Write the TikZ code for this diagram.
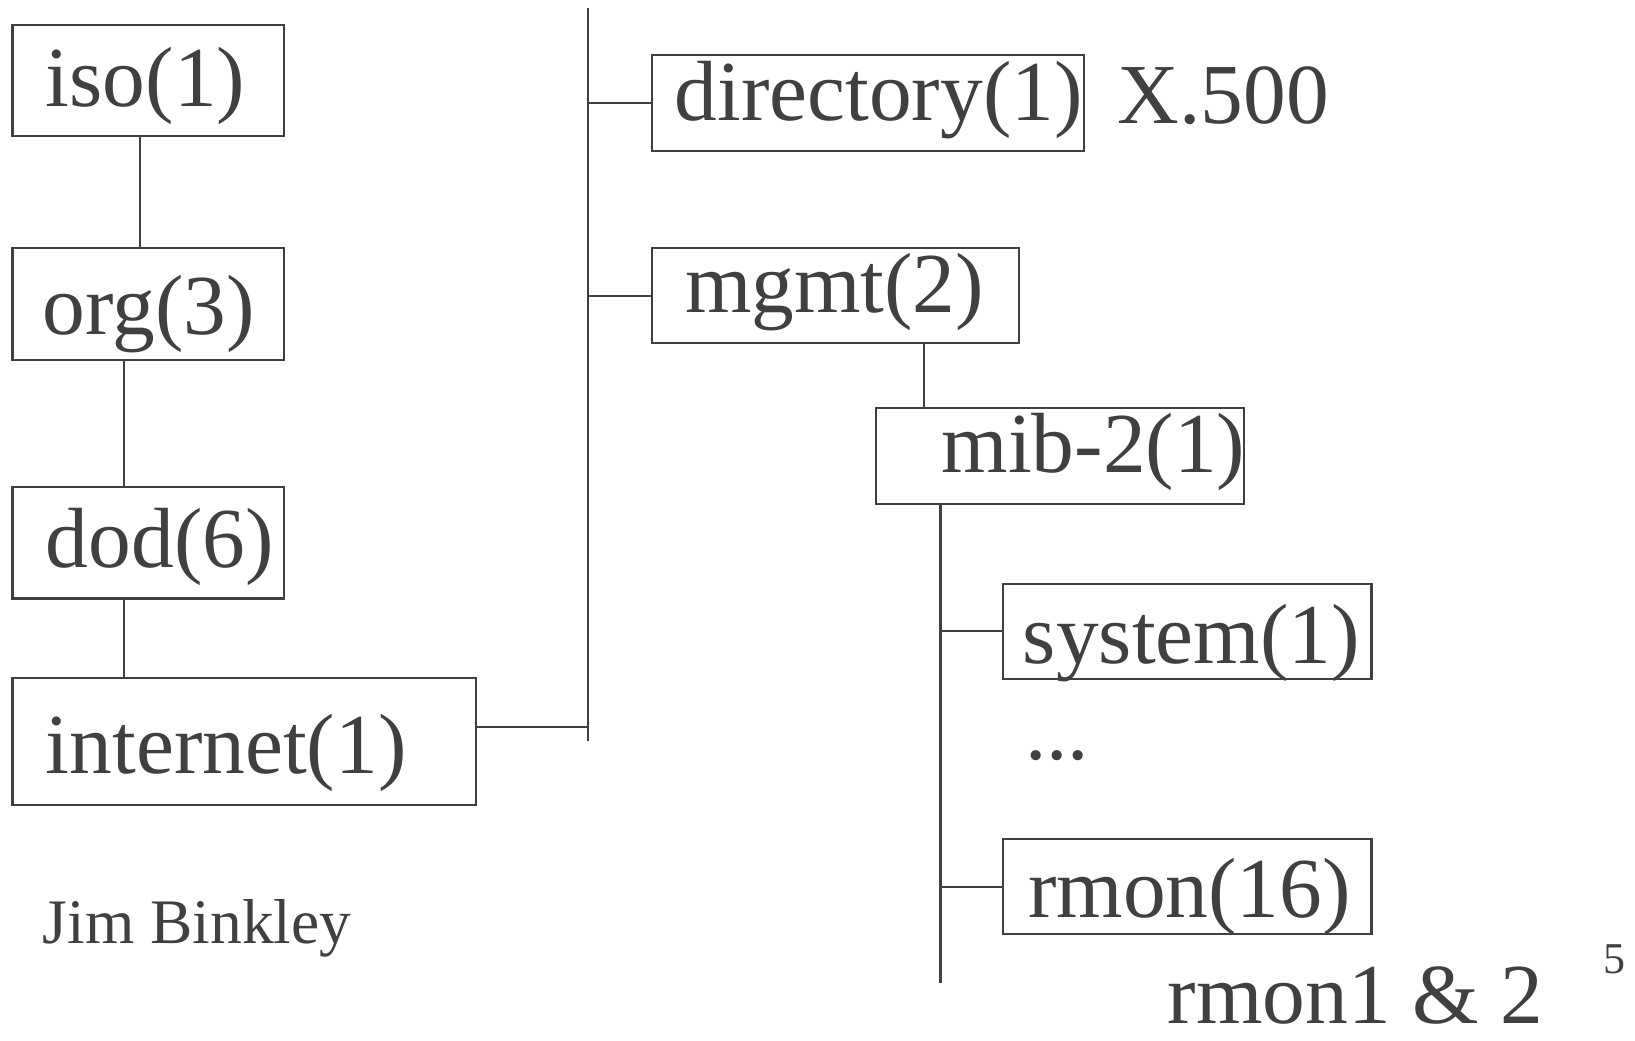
\documentclass[tikz,border=0pt]{standalone}
\usepackage{fontspec}
\setmainfont{Liberation Serif}
\definecolor{ink}{RGB}{64,64,64}
\begin{document}
\begin{tikzpicture}[x=0.01cm,y=-0.01cm,color=ink,line width=0.6pt]
\tikzset{
  box/.style={draw=ink, rectangle, inner sep=0pt, outer sep=0pt, anchor=north west},
  lbl/.style={anchor=base west, inner sep=0pt, font=\fontsize{23.3}{28}\selectfont},
  wire/.style={draw=ink, line width=0.6pt}
}
\useasboundingbox (0,0) rectangle (1568,998);
% left column
\node[box, minimum width=2.60cm, minimum height=1.06cm] (iso) at (12,24) {};
\node[lbl] (isot) at (43,102) {iso(1)};
\node[box, minimum width=2.60cm, minimum height=1.07cm] (org) at (12,238) {};
\node[lbl] (orgt) at (40,321) {org(3)};
\node[box, minimum width=2.60cm, minimum height=1.07cm] (dod) at (12,467) {};
\node[lbl] (dodt) at (43,544) {dod(6)};
\node[box, minimum width=4.44cm, minimum height=1.22cm] (internet) at (12,650) {};
\node[lbl] (internett) at (43,742) {internet(1)};
% right part
\node[box, minimum width=4.14cm, minimum height=0.92cm] (directory) at (625,53) {};
\node[lbl] (directoryt) at (646,116) {directory(1)};
\node[lbl] (x500) at (1071,118) {X.500};
\node[box, minimum width=3.52cm, minimum height=0.91cm] (mgmt) at (625,238) {};
\node[lbl] (mgmtt) at (656,300) {mgmt(2)};
\node[box, minimum width=3.53cm, minimum height=0.92cm] (mib) at (840,391) {};
\node[lbl] (mibt) at (902,453) {mib-2(1)};
\node[box, minimum width=3.53cm, minimum height=0.91cm] (system) at (962,560) {};
\node[lbl] (systemt) at (980,636) {system(1)};
\node[lbl] (dots) at (982,728) {...};
\node[box, minimum width=3.53cm, minimum height=0.91cm] (rmon) at (962,805) {};
\node[lbl] (rmont) at (985,880) {rmon(16)};
\node[lbl] (rmonnote) at (1119,982) {rmon1 \& 2};
\node[anchor=base west, inner sep=0pt, font=\fontsize{12}{14}\selectfont] (pagenum) at (1537,934) {5};
\node[anchor=base west, inner sep=0pt, font=\fontsize{17.3}{20}\selectfont] (author) at (40,905) {Jim Binkley};
% helper coordinates
\coordinate (cio) at (134,0);
\coordinate (cod) at (119,0);
\coordinate (trunktop) at (564,8);
\coordinate (trunkbot) at (564,711);
\coordinate (ib) at (564,697);
\coordinate (cmm) at (886,0);
\coordinate (mibbot) at (902,943);
% connectors
\draw[wire] (iso.south -| cio) -- (org.north -| cio);
\draw[wire] (org.south -| cod) -- (dod.north -| cod);
\draw[wire] (dod.south -| cod) -- (internet.north -| cod);
\draw[wire] (trunktop) -- (trunkbot);
\draw[wire] (internet.east |- ib) -- (ib);
\draw[wire] (directory.west -| trunktop) -- (directory.west);
\draw[wire] (mgmt.west -| trunktop) -- (mgmt.west);
\draw[wire] (mgmt.south -| cmm) -- (mib.north -| cmm);
\draw[wire] (mib.south -| mibbot) -- (mibbot);
\draw[wire] (system.west -| mibbot) -- (system.west);
\draw[wire] (rmon.west -| mibbot) -- (rmon.west);
\end{tikzpicture}
\end{document}
